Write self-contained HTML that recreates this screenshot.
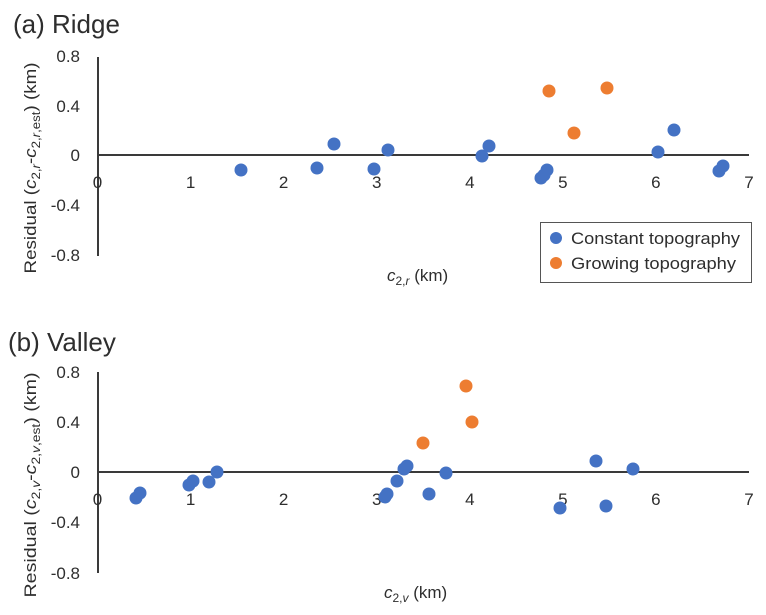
<!DOCTYPE html>
<html><head><meta charset="utf-8"><style>
html,body{margin:0;padding:0;background:#fff;}
svg{display:block;}
text{font-family:"Liberation Sans",sans-serif;fill:#2e2e2e;}
</style></head><body>
<svg width="766" height="615" viewBox="0 0 766 615" xmlns="http://www.w3.org/2000/svg">
<rect width="766" height="615" fill="#fff"/>
<!-- Panel (a) -->
<text x="13" y="33" font-size="26" fill="#222">(a) Ridge</text>
<line x1="98" y1="57" x2="98" y2="256" stroke="#3a3a3a" stroke-width="2"/>
<line x1="97" y1="155" x2="749" y2="155" stroke="#3a3a3a" stroke-width="2"/>
<g font-size="17" text-anchor="end">
<text x="80" y="62">0.8</text>
<text x="80" y="112">0.4</text>
<text x="80" y="161">0</text>
<text x="80" y="211">-0.4</text>
<text x="80" y="261">-0.8</text>
</g>
<g font-size="17" text-anchor="middle">
<text x="97.5" y="188">0</text>
<text x="190.6" y="188">1</text>
<text x="283.6" y="188">2</text>
<text x="376.7" y="188">3</text>
<text x="469.8" y="188">4</text>
<text x="562.8" y="188">5</text>
<text x="655.9" y="188">6</text>
<text x="749" y="188">7</text>
</g>
<text transform="translate(36,168) rotate(-90)" text-anchor="middle" font-size="17" textLength="211" lengthAdjust="spacingAndGlyphs">Residual (<tspan font-style="italic">c</tspan><tspan font-size="12" dy="4">2,<tspan font-style="italic">r</tspan></tspan><tspan dy="-4">-</tspan><tspan font-style="italic">c</tspan><tspan font-size="12" dy="4">2,<tspan font-style="italic">r</tspan>,est</tspan><tspan dy="-4">) (km)</tspan></text>
<text x="387" y="281" font-size="17"><tspan font-style="italic">c</tspan><tspan font-size="12" dy="4">2,<tspan font-style="italic">r</tspan></tspan><tspan dy="-4"> (km)</tspan></text>
<g fill="#4472c4">
<circle cx="241" cy="170" r="6.5"/><circle cx="317" cy="168" r="6.5"/><circle cx="334" cy="144" r="6.5"/>
<circle cx="374" cy="169" r="6.5"/><circle cx="388" cy="150" r="6.5"/><circle cx="482" cy="156" r="6.5"/>
<circle cx="489" cy="146" r="6.5"/><circle cx="541" cy="178" r="6.5"/><circle cx="544" cy="175" r="6.5"/>
<circle cx="547" cy="170" r="6.5"/><circle cx="658" cy="152" r="6.5"/><circle cx="674" cy="130" r="6.5"/>
<circle cx="719" cy="171" r="6.5"/><circle cx="723" cy="166" r="6.5"/>
</g>
<g fill="#ed7d31">
<circle cx="549" cy="91" r="6.5"/><circle cx="607" cy="88" r="6.5"/><circle cx="574" cy="133" r="6.5"/>
</g>
<rect x="540.5" y="222.5" width="211" height="60" fill="#fff" stroke="#555" stroke-width="1"/>
<circle cx="556" cy="238" r="6" fill="#4472c4"/>
<circle cx="556" cy="263" r="6" fill="#ed7d31"/>
<text x="571" y="244" font-size="17" textLength="169" lengthAdjust="spacingAndGlyphs">Constant topography</text>
<text x="571" y="269" font-size="17" textLength="165" lengthAdjust="spacingAndGlyphs">Growing topography</text>

<!-- Panel (b) -->
<text x="8" y="351" font-size="26" fill="#222">(b) Valley</text>
<line x1="98" y1="372" x2="98" y2="573" stroke="#3a3a3a" stroke-width="2"/>
<line x1="97" y1="472" x2="749" y2="472" stroke="#3a3a3a" stroke-width="2"/>
<g font-size="17" text-anchor="end">
<text x="80" y="378">0.8</text>
<text x="80" y="428">0.4</text>
<text x="80" y="478">0</text>
<text x="80" y="528">-0.4</text>
<text x="80" y="579">-0.8</text>
</g>
<g font-size="17" text-anchor="middle">
<text x="97.5" y="505">0</text>
<text x="190.6" y="505">1</text>
<text x="283.6" y="505">2</text>
<text x="376.7" y="505">3</text>
<text x="469.8" y="505">4</text>
<text x="562.8" y="505">5</text>
<text x="655.9" y="505">6</text>
<text x="749" y="505">7</text>
</g>
<text transform="translate(36,485) rotate(-90)" text-anchor="middle" font-size="17" textLength="225" lengthAdjust="spacingAndGlyphs">Residual (<tspan font-style="italic">c</tspan><tspan font-size="12" dy="4">2,<tspan font-style="italic">v</tspan></tspan><tspan dy="-4">-</tspan><tspan font-style="italic">c</tspan><tspan font-size="12" dy="4">2,<tspan font-style="italic">v</tspan>,est</tspan><tspan dy="-4">) (km)</tspan></text>
<text x="384" y="598" font-size="17"><tspan font-style="italic">c</tspan><tspan font-size="12" dy="4">2,<tspan font-style="italic">v</tspan></tspan><tspan dy="-4">  (km)</tspan></text>
<g fill="#4472c4">
<circle cx="136" cy="498" r="6.5"/><circle cx="140" cy="493" r="6.5"/><circle cx="189" cy="485" r="6.5"/>
<circle cx="193" cy="481" r="6.5"/><circle cx="209" cy="482" r="6.5"/><circle cx="217" cy="472" r="6.5"/>
<circle cx="385" cy="497" r="6.5"/><circle cx="387" cy="494" r="6.5"/><circle cx="397" cy="481" r="6.5"/>
<circle cx="404" cy="469" r="6.5"/><circle cx="407" cy="466" r="6.5"/><circle cx="429" cy="494" r="6.5"/>
<circle cx="446" cy="473" r="6.5"/><circle cx="560" cy="508" r="6.5"/><circle cx="596" cy="461" r="6.5"/>
<circle cx="606" cy="506" r="6.5"/><circle cx="633" cy="469" r="6.5"/>
</g>
<g fill="#ed7d31">
<circle cx="423" cy="443" r="6.5"/><circle cx="466" cy="386" r="6.5"/><circle cx="472" cy="422" r="6.5"/>
</g>
</svg>
</body></html>
